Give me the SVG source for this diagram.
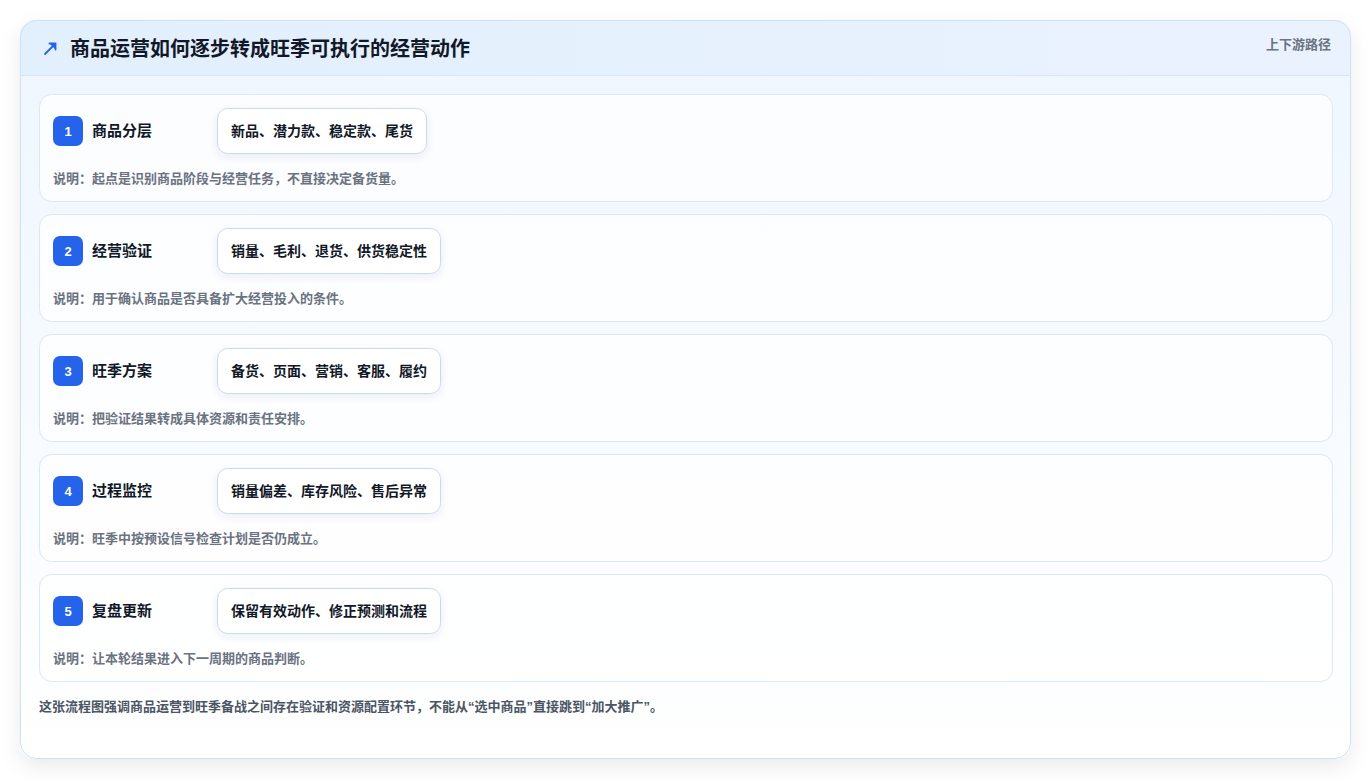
<svg xmlns="http://www.w3.org/2000/svg" width="1372" height="780" viewBox="0 0 1372 780">
<defs>
<linearGradient id="bodyG" x1="0" y1="0" x2="0" y2="1">
<stop offset="0" stop-color="#eef6fe"/>
<stop offset="0.6" stop-color="#f8fbff"/>
<stop offset="1" stop-color="#ffffff"/>
</linearGradient>
<linearGradient id="headG" x1="0" y1="0" x2="1" y2="0">
<stop offset="0" stop-color="#e2effd"/>
<stop offset="1" stop-color="#eaf2fe"/>
</linearGradient>
<filter id="shadow" x="-5%" y="-5%" width="110%" height="115%">
<feDropShadow dx="0" dy="8" stdDeviation="10" flood-color="#0f172a" flood-opacity="0.08"/>
</filter>
<filter id="pshadow" x="-10%" y="-20%" width="120%" height="160%">
<feDropShadow dx="0" dy="3" stdDeviation="4" flood-color="#1e3a8a" flood-opacity="0.08"/>
</filter>
<clipPath id="cardClip"><rect x="20" y="20" width="1331" height="739" rx="16"/></clipPath>
</defs>
<style>
text{font-family:"Liberation Sans","Noto Sans CJK SC",sans-serif}
.step{fill:#ffffff;fill-opacity:0.75;stroke:#dbe8f6;stroke-width:1}
.badge{fill:#2563eb}
.num{fill:#ffffff;font-size:13px;font-weight:700;text-anchor:middle}
.ttl{fill:#111827;font-size:15px;font-weight:700}
.pill{fill:#ffffff;stroke:#c9d9ee;stroke-width:1}
.ptxt{fill:#111827;font-size:14px;font-weight:700}
.desc{fill:#6b7280;font-size:13px;font-weight:700}
</style>
<rect width="1372" height="780" fill="#ffffff"/>
<g id="card">
<rect x="20" y="20" width="1331" height="739" rx="16" fill="url(#bodyG)" filter="url(#shadow)"/>
<g clip-path="url(#cardClip)">
<rect x="20" y="20" width="1331" height="55" fill="url(#headG)"/>
<line x1="20" y1="75.5" x2="1351" y2="75.5" stroke="#d6e6f5" stroke-width="1"/>
</g>
<rect x="20.5" y="20.5" width="1330" height="738" rx="16" fill="none" stroke="#cde2f3" stroke-width="1"/>
</g>
<g id="header">
<g stroke="#2563eb" stroke-width="1.8" fill="none" stroke-linecap="round">
<line x1="45" y1="54" x2="55" y2="44"/>
<polyline points="49.5,43.5 55.5,43.5 55.5,49.5" fill="#2563eb"/>
</g>
<text x="70" y="56" font-size="20" font-weight="700" fill="#111827">商品运营如何逐步转成旺季可执行的经营动作</text>
<text x="1331" y="49" font-size="13" font-weight="700" fill="#6b7280" text-anchor="end">上下游路径</text>
</g>
<g id="step1">
<rect class="step" x="39.5" y="94.5" width="1293" height="107" rx="12"/>
<rect class="badge" x="53" y="116" width="30" height="30" rx="7"/>
<text class="num" x="68" y="136">1</text>
<text class="ttl" x="92" y="136">商品分层</text>
<rect class="pill" x="217.5" y="108.5" width="209" height="45" rx="10" filter="url(#pshadow)"/>
<text class="ptxt" x="231" y="135.5">新品、潜力款、稳定款、尾货</text>
<text class="desc" x="53" y="183">说明：起点是识别商品阶段与经营任务，不直接决定备货量。</text>
</g>
<g id="step2">
<rect class="step" x="39.5" y="214.5" width="1293" height="107" rx="12"/>
<rect class="badge" x="53" y="236" width="30" height="30" rx="7"/>
<text class="num" x="68" y="256">2</text>
<text class="ttl" x="92" y="256">经营验证</text>
<rect class="pill" x="217.5" y="228.5" width="223" height="45" rx="10" filter="url(#pshadow)"/>
<text class="ptxt" x="231" y="255.5">销量、毛利、退货、供货稳定性</text>
<text class="desc" x="53" y="303">说明：用于确认商品是否具备扩大经营投入的条件。</text>
</g>
<g id="step3">
<rect class="step" x="39.5" y="334.5" width="1293" height="107" rx="12"/>
<rect class="badge" x="53" y="356" width="30" height="30" rx="7"/>
<text class="num" x="68" y="376">3</text>
<text class="ttl" x="92" y="376">旺季方案</text>
<rect class="pill" x="217.5" y="348.5" width="223" height="45" rx="10" filter="url(#pshadow)"/>
<text class="ptxt" x="231" y="375.5">备货、页面、营销、客服、履约</text>
<text class="desc" x="53" y="423">说明：把验证结果转成具体资源和责任安排。</text>
</g>
<g id="step4">
<rect class="step" x="39.5" y="454.5" width="1293" height="107" rx="12"/>
<rect class="badge" x="53" y="476" width="30" height="30" rx="7"/>
<text class="num" x="68" y="496">4</text>
<text class="ttl" x="92" y="496">过程监控</text>
<rect class="pill" x="217.5" y="468.5" width="223" height="45" rx="10" filter="url(#pshadow)"/>
<text class="ptxt" x="231" y="495.5">销量偏差、库存风险、售后异常</text>
<text class="desc" x="53" y="543">说明：旺季中按预设信号检查计划是否仍成立。</text>
</g>
<g id="step5">
<rect class="step" x="39.5" y="574.5" width="1293" height="107" rx="12"/>
<rect class="badge" x="53" y="596" width="30" height="30" rx="7"/>
<text class="num" x="68" y="616">5</text>
<text class="ttl" x="92" y="616">复盘更新</text>
<rect class="pill" x="217.5" y="588.5" width="223" height="45" rx="10" filter="url(#pshadow)"/>
<text class="ptxt" x="231" y="615.5">保留有效动作、修正预测和流程</text>
<text class="desc" x="53" y="663">说明：让本轮结果进入下一周期的商品判断。</text>
</g>
<g id="connectors"></g>
<g id="footer">
<text x="39" y="711" font-size="13" font-weight="700" fill="#4b5563">这张流程图强调商品运营到旺季备战之间存在验证和资源配置环节，不能从“选中商品”直接跳到“加大推广”。</text>
</g>
</svg>
